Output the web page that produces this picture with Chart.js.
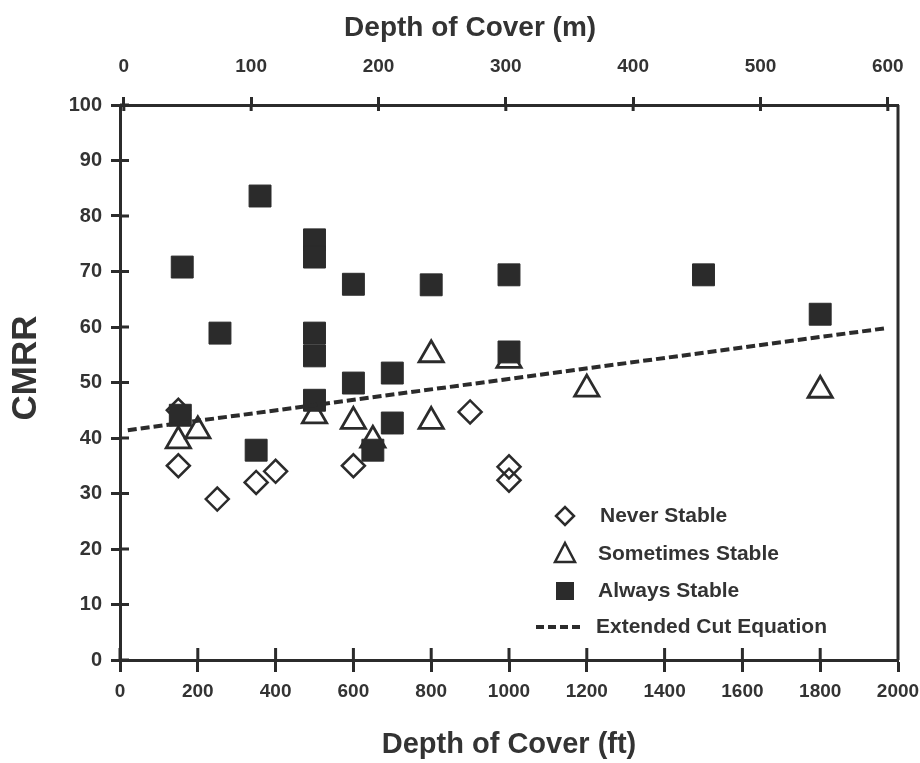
<!DOCTYPE html>
<html>
<head>
<meta charset="utf-8">
<script src="https://cdn.jsdelivr.net/npm/chart.js"></script>
<style>
  body { margin: 0; background: #fff; }
</style>
</head>
<body>
<canvas id="cmrr" width="920" height="763"></canvas>
<script>
// depth of cover (ft) and CMRR for each stability class
const neverX = [150, 150, 250, 350, 400, 600, 900, 1000, 1000];
const neverY = [45, 35, 29, 32, 34, 35, 44.7, 34.8, 32.4];

const sometimesX = [150, 200, 500, 600, 650, 800, 800, 1000, 1200, 1800];
const sometimesY = [39.5, 41.3, 44, 43, 39.6, 55, 43, 54, 48.8, 48.6];

const alwaysX = [160, 257, 360, 500, 500, 600, 800, 1000, 500, 500, 500, 600, 700, 700, 155, 350, 650, 1000, 1500, 1800];
const alwaysY = [70.8, 58.9, 83.6, 75.7, 72.6, 67.7, 67.6, 69.4, 58.9, 54.8, 46.8, 49.9, 51.7, 42.7, 44.1, 37.8, 37.8, 55.5, 69.4, 62.3];

// extended cut equation, end points
const cutX = [20, 1970];
const cutY = [41.4, 59.8];

const legendLabels = ["Never Stable", "Sometimes Stable", "Always Stable", "Extended Cut Equation"];

const ink = "#2b2b2b";
const font = "'Liberation Sans', Arial, sans-serif";

function pts(xs, ys) {
  return xs.map((x, i) => ({ x: x, y: ys[i] }));
}

const plain = v => String(v);

// short tick stubs on the inside of the frame, plus the right border
const frame = {
  id: "frame",
  afterDatasetsDraw(chart) {
    const ctx = chart.ctx;
    const a = chart.chartArea;
    ctx.save();
    ctx.strokeStyle = ink;
    ctx.lineWidth = 3;
    ctx.beginPath();
    ctx.moveTo(a.right, a.top);
    ctx.lineTo(a.right, a.bottom);
    chart.scales.y.ticks.forEach(t => {
      const py = chart.scales.y.getPixelForValue(t.value);
      ctx.moveTo(a.left, py);
      ctx.lineTo(a.left + 9, py);
    });
    chart.scales.x.ticks.forEach(t => {
      const px = chart.scales.x.getPixelForValue(t.value);
      ctx.moveTo(px, a.bottom);
      ctx.lineTo(px, a.bottom - 12);
    });
    chart.scales.x2.ticks.forEach(t => {
      const px = chart.scales.x2.getPixelForValue(t.value);
      ctx.moveTo(px, a.top);
      ctx.lineTo(px, a.top + 6);
    });
    ctx.stroke();
    ctx.restore();
  }
};

// legend sits inside the plot, lower right
const insideLegend = {
  id: "insideLegend",
  afterDraw(chart) {
    const ctx = chart.ctx;
    const a = chart.chartArea;
    const symX = a.right - 333;
    const textX = a.right - 300;
    const rows = [a.bottom - 144, a.bottom - 106, a.bottom - 69, a.bottom - 33];
    ctx.save();
    ctx.strokeStyle = ink;
    ctx.fillStyle = ink;
    ctx.lineWidth = 2.5;

    // diamond
    ctx.beginPath();
    ctx.moveTo(symX - 9, rows[0]);
    ctx.lineTo(symX, rows[0] - 9);
    ctx.lineTo(symX + 9, rows[0]);
    ctx.lineTo(symX, rows[0] + 9);
    ctx.closePath();
    ctx.stroke();

    // triangle
    ctx.beginPath();
    ctx.moveTo(symX, rows[1] - 11);
    ctx.lineTo(symX + 10, rows[1] + 8);
    ctx.lineTo(symX - 10, rows[1] + 8);
    ctx.closePath();
    ctx.stroke();

    // square
    ctx.fillRect(symX - 9, rows[2] - 9, 18, 18);

    // dashes
    ctx.lineWidth = 4;
    ctx.setLineDash([8, 4]);
    ctx.beginPath();
    ctx.moveTo(symX - 29, rows[3]);
    ctx.lineTo(symX + 17, rows[3]);
    ctx.stroke();
    ctx.setLineDash([]);

    ctx.font = "bold 21px " + font;
    ctx.textBaseline = "middle";
    ctx.fillStyle = "#333";
    ctx.fillText(legendLabels[0], textX + 2, rows[0]);
    ctx.fillText(legendLabels[1], textX, rows[1]);
    ctx.fillText(legendLabels[2], textX, rows[2]);
    ctx.fillText(legendLabels[3], textX - 2, rows[3]);
    ctx.restore();
  }
};

new Chart("cmrr", {
  type: "scatter",
  data: {
    datasets: [
      {
        label: legendLabels[0],
        data: pts(neverX, neverY),
        pointStyle: "rectRot",
        pointRadius: 11.5,
        pointBorderWidth: 2.5,
        borderColor: ink,
        backgroundColor: "rgba(255,255,255,0)",
        order: 3,
      },
      {
        label: legendLabels[1],
        data: pts(sometimesX, sometimesY),
        pointStyle: "triangle",
        pointRadius: 14,
        pointBorderWidth: 2.8,
        borderColor: ink,
        backgroundColor: "#fff",
        order: 2,
      },
      {
        label: legendLabels[2],
        data: pts(alwaysX, alwaysY),
        pointStyle: "rect",
        pointRadius: 15.5,
        pointBorderWidth: 1,
        borderColor: ink,
        backgroundColor: ink,
        order: 1,
      },
      {
        label: legendLabels[3],
        data: pts(cutX, cutY),
        showLine: true,
        pointRadius: 0,
        borderColor: ink,
        borderWidth: 4,
        borderDash: [9, 4],
        order: 0,
      },
    ],
  },
  options: {
    responsive: false,
    animation: false,
    devicePixelRatio: 1,
    layout: { padding: { left: 0, right: 22, top: 0, bottom: 0 } },
    plugins: {
      legend: { display: false },
      tooltip: { enabled: false },
    },
    scales: {
      x: {
        type: "linear",
        position: "bottom",
        min: 0,
        max: 2000,
        ticks: { stepSize: 200, callback: plain, color: "#333", padding: 8, font: { family: font, size: 19, weight: "bold" } },
        grid: { drawOnChartArea: false, tickLength: 12, tickWidth: 3, tickColor: ink },
        border: { width: 3, color: ink },
        title: {
          display: true,
          text: "Depth of Cover (ft)",
          color: "#333",
          padding: { top: 0, bottom: 1 },
          font: { family: font, size: 29, weight: "bold" },
        },
        afterFit(scale) {
          scale.height = 103;
          scale.paddingLeft = 0;
          scale.paddingRight = 0;
        },
      },
      x2: {
        type: "linear",
        position: "top",
        min: -3,
        max: 608,
        ticks: { stepSize: 100, includeBounds: false, callback: plain, color: "#333", padding: 19, font: { family: font, size: 19, weight: "bold" } },
        grid: { drawOnChartArea: false, tickLength: 8, tickWidth: 3, tickColor: ink },
        border: { width: 3, color: ink },
        title: {
          display: true,
          text: "Depth of Cover (m)          ",
          color: "#333",
          padding: { top: 11, bottom: 0 },
          font: { family: font, size: 28, weight: "bold" },
        },
        afterFit(scale) {
          scale.height = 105;
          scale.paddingLeft = 0;
          scale.paddingRight = 0;
        },
      },
      y: {
        min: 0,
        max: 100,
        ticks: { stepSize: 10, callback: plain, color: "#333", padding: 9, font: { family: font, size: 20, weight: "bold" } },
        grid: { drawOnChartArea: false, tickLength: 9, tickWidth: 3, tickColor: ink },
        border: { width: 3, color: ink },
        title: {
          display: true,
          text: "   CMRR",
          color: "#333",
          padding: { top: 5, bottom: 0 },
          font: { family: font, size: 35, weight: "bold" },
        },
        afterFit(scale) { scale.width = 120; },
      },
    },
  },
  plugins: [frame, insideLegend],
});
</script>
</body>
</html>
